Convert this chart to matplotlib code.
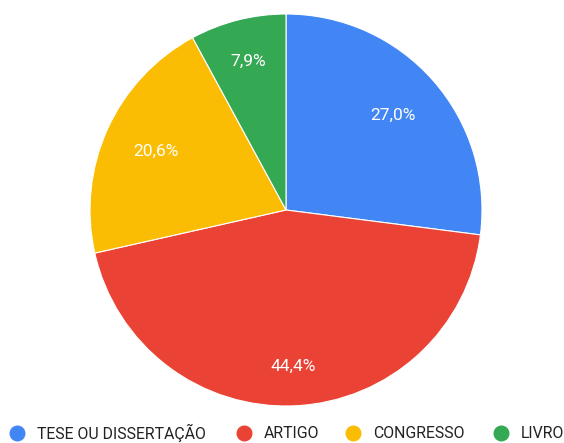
import numpy as np
import matplotlib.pyplot as plt
from matplotlib.lines import Line2D

plt.rcParams['font.family'] = ['Roboto', 'DejaVu Sans']

labels = ['TESE OU DISSERTAÇÃO', 'ARTIGO', 'CONGRESSO', 'LIVRO']
values = [27.0, 44.4, 20.6, 7.9]
colors = ['#4285F4', '#EA4335', '#FBBC04', '#34A853']

W, H = 564, 443
fig = plt.figure(figsize=(W / 100, H / 100), dpi=100)
# pie centre (286, 210) px, radius 196 px
cx, cy, r = 286, 210, 196
ax = fig.add_axes([(cx - r) / W, (H - cy - r) / H, 2 * r / W, 2 * r / H])

wedges, texts, autotexts = ax.pie(
    values,
    colors=colors,
    startangle=90,
    counterclock=False,
    autopct=lambda p: f'{p:.1f}'.replace('.', ',') + '%',
    pctdistance=0.75,
    wedgeprops=dict(edgecolor='white', linewidth=0.8),
    textprops=dict(color='white', fontsize=12.5),
)
ax.set_xlim(-1, 1)
ax.set_ylim(-1, 1)
ax.set_aspect('equal')

# push labels to where they sit inside each slice
label_r = [0.73, 0.80, 0.73, 0.78]
for w, t, lr in zip(wedges, autotexts, label_r):
    ang = np.deg2rad((w.theta1 + w.theta2) / 2)
    t.set_position((lr * np.cos(ang), lr * np.sin(ang)))

# legend row along the bottom
leg_x = [17, 244, 353, 501]
leg_y = 433
for x, lab, c in zip(leg_x, labels, colors):
    fig.add_artist(Line2D([x / W], [1 - leg_y / H], marker='o', markersize=10.5,
                          color=c, linestyle='none', transform=fig.transFigure))
    fig.text((x + 20) / W, 1 - leg_y / H, lab, fontsize=11.4, color='#222222',
             va='center', ha='left')

plt.savefig('out.png', dpi=100)
